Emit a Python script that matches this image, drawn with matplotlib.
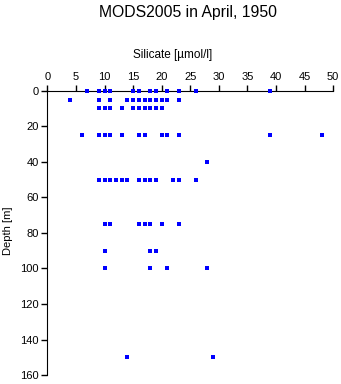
import numpy as np
import matplotlib.pyplot as plt

plt.rcParams['font.family'] = ['Liberation Sans', 'DejaVu Sans']

# depth levels and silicate values
depth_0 = [7, 9, 10, 11, 15, 16, 18, 19, 21, 23, 26, 39]
depth_5 = [4, 9, 11, 14, 15, 16, 17, 18, 19, 20, 21, 23]
depth_10 = [9, 10, 11, 13, 15, 16, 17, 18, 19, 20]
depth_25 = [6, 9, 10, 11, 13, 16, 17, 20, 21, 23, 39, 48]
depth_40 = [28]
depth_50 = [9, 10, 11, 12, 13, 14, 16, 17, 18, 19, 22, 23, 26]
depth_75 = [10, 11, 16, 17, 18, 20, 23]
depth_90 = [10, 18, 19]
depth_100 = [10, 18, 21, 28]
depth_150 = [14, 29]

levels = [0, 5, 10, 25, 40, 50, 75, 90, 100, 150]
values = [depth_0, depth_5, depth_10, depth_25, depth_40, depth_50,
          depth_75, depth_90, depth_100, depth_150]

sil = np.concatenate([np.array(v, float) for v in values])
dep = np.concatenate([np.full(len(v), d, float) for d, v in zip(levels, values)])

fig = plt.figure(figsize=(3.41, 3.84), dpi=100)
ax = fig.add_axes([0.139, 0.023, 0.838, 0.741])

ax.scatter(sil, dep, marker='s', s=5, color='#0000ff', linewidths=0,
           clip_on=False, zorder=5)

ax.set_xlim(0, 50)
ax.set_ylim(160, 0)
ax.set_xticks(np.arange(0, 51, 5))
ax.set_yticks(np.arange(0, 161, 20))
ax.xaxis.tick_top()
ax.spines['right'].set_visible(False)
ax.spines['bottom'].set_visible(False)
ax.tick_params(direction='out', length=4, width=1, labelsize=8, pad=2)

fig.text(0.551, 0.968, "MODS2005 in April, 1950", ha='center', va='center', fontsize=11.3)
fig.text(0.507, 0.857, "Silicate [µmol/l]", ha='center', va='center', fontsize=8.5)
fig.text(0.022, 0.40, "Depth [m]", ha='center', va='center', rotation=90, fontsize=8)

fig.savefig("out.png", dpi=100)
